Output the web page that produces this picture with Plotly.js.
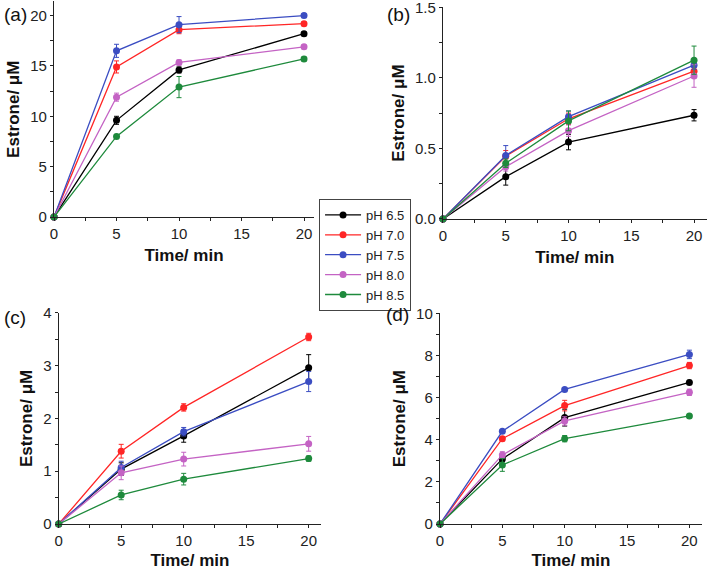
<!DOCTYPE html>
<html>
<head>
<meta charset="utf-8">
<script src="https://cdn.plot.ly/plotly-3.0.1.min.js"></script>
<style>html,body{margin:0;padding:0;background:#fff;}#chart{width:709px;height:570px;}</style>
</head>
<body>
<div id="chart"></div>
<script>
// ---- data ----
const timeMin = [0, 5, 10, 20];
const seriesNames = ["pH 6.5", "pH 7.0", "pH 7.5", "pH 8.0", "pH 8.5"];
const seriesColors = ["#000000", "#ff2626", "#3b4dc2", "#c463c4", "#1e8a3c"];

// panel (a)
const a_ph65 = [0, 9.6, 14.6, 18.2];   const a_ph65_err = [0, 0.4, 0.3, 0.2];
const a_ph70 = [0, 14.9, 18.6, 19.2];  const a_ph70_err = [0, 0.6, 0.4, 0.2];
const a_ph75 = [0, 16.5, 19.1, 20.0];  const a_ph75_err = [0, 0.65, 0.8, 0.2];
const a_ph80 = [0, 11.9, 15.35, 16.9]; const a_ph80_err = [0, 0.4, 0.25, 0.2];
const a_ph85 = [0, 8.0, 12.9, 15.7];   const a_ph85_err = [0, 0.2, 1.05, 0.2];
// panel (b)
const b_ph65 = [0, 0.30, 0.545, 0.735]; const b_ph65_err = [0, 0.06, 0.055, 0.04];
const b_ph70 = [0, 0.445, 0.71, 1.047]; const b_ph70_err = [0, 0.04, 0.04, 0.03];
const b_ph75 = [0, 0.45, 0.725, 1.09];  const b_ph75_err = [0, 0.07, 0.04, 0.03];
const b_ph80 = [0, 0.37, 0.626, 1.013]; const b_ph80_err = [0, 0.03, 0.04, 0.08];
const b_ph85 = [0, 0.395, 0.695, 1.125];const b_ph85_err = [0, 0.03, 0.07, 0.1];
// panel (c)
const c_ph65 = [0, 1.04, 1.67, 2.96];  const c_ph65_err = [0, 0.12, 0.12, 0.25];
const c_ph70 = [0, 1.38, 2.21, 3.545]; const c_ph70_err = [0, 0.13, 0.07, 0.07];
const c_ph75 = [0, 1.07, 1.75, 2.70];  const c_ph75_err = [0, 0.12, 0.08, 0.19];
const c_ph80 = [0, 0.97, 1.23, 1.52];  const c_ph80_err = [0, 0.13, 0.13, 0.14];
const c_ph85 = [0, 0.55, 0.85, 1.24];  const c_ph85_err = [0, 0.09, 0.11, 0.05];
// panel (d)
const d_ph65 = [0, 3.09, 5.05, 6.72];  const d_ph65_err = [0, 0.1, 0.4, 0.1];
const d_ph70 = [0, 4.05, 5.62, 7.52];  const d_ph70_err = [0, 0.1, 0.25, 0.15];
const d_ph75 = [0, 4.40, 6.39, 8.05];  const d_ph75_err = [0, 0.05, 0.08, 0.2];
const d_ph80 = [0, 3.28, 4.89, 6.25];  const d_ph80_err = [0, 0.15, 0.2, 0.15];
const d_ph85 = [0, 2.80, 4.05, 5.13];  const d_ph85_err = [0, 0.3, 0.15, 0.08];

const panelLabels = ["(a)", "(b)", "(c)", "(d)"];
const xTitle = "Time/ min";
const yTitle = "Estrone/ μM";

// ---- build ----
const panels = [
  {ax: ["x", "y"],   vals: [a_ph65, a_ph70, a_ph75, a_ph80, a_ph85], errs: [a_ph65_err, a_ph70_err, a_ph75_err, a_ph80_err, a_ph85_err]},
  {ax: ["x2", "y2"], vals: [b_ph65, b_ph70, b_ph75, b_ph80, b_ph85], errs: [b_ph65_err, b_ph70_err, b_ph75_err, b_ph80_err, b_ph85_err]},
  {ax: ["x3", "y3"], vals: [c_ph65, c_ph70, c_ph75, c_ph80, c_ph85], errs: [c_ph65_err, c_ph70_err, c_ph75_err, c_ph80_err, c_ph85_err]},
  {ax: ["x4", "y4"], vals: [d_ph65, d_ph70, d_ph75, d_ph80, d_ph85], errs: [d_ph65_err, d_ph70_err, d_ph75_err, d_ph80_err, d_ph85_err]}
];

const traces = [];
panels.forEach((p, pi) => {
  p.vals.forEach((v, si) => {
    traces.push({
      x: timeMin, y: v, xaxis: p.ax[0], yaxis: p.ax[1],
      type: "scatter", mode: "lines+markers", cliponaxis: false,
      name: seriesNames[si], legendgroup: seriesNames[si],
      showlegend: pi === 0,
      line: {color: seriesColors[si], width: 1.3},
      marker: {color: seriesColors[si], size: 7},
      error_y: {type: "data", array: p.errs[si], visible: true, color: seriesColors[si], thickness: 1, width: 2.5}
    });
  });
});

const FONT = "Liberation Sans, Arial, sans-serif";
function xAxis(domain, range, anchor) {
  return {domain: domain, range: range, anchor: anchor, dtick: 5, tick0: 0,
    showgrid: false, zeroline: false, showline: true, linecolor: "#222", linewidth: 1.2,
    ticks: "outside", ticklen: 3, tickwidth: 1, tickcolor: "#222", ticklabeloverflow: "allow",
    minor: {dtick: 2.5, ticks: "outside", ticklen: 3, tickcolor: "#222", showgrid: false},
    tickfont: {family: FONT, size: 15, color: "#222"},
    title: {text: xTitle, font: {family: FONT, size: 17, color: "#111", weight: "bold"}, standoff: 8},
    fixedrange: true};
}
function yAxis(domain, range, anchor, dtick, minorD, fmt) {
  return {domain: domain, range: range, anchor: anchor, dtick: dtick, tick0: 0, tickformat: fmt,
    showgrid: false, zeroline: false, showline: true, linecolor: "#222", linewidth: 1.2,
    ticks: "outside", ticklen: 3, tickwidth: 1, tickcolor: "#222", ticklabeloverflow: "allow",
    minor: {dtick: minorD, ticks: "outside", ticklen: 3, tickcolor: "#222", showgrid: false},
    tickfont: {family: FONT, size: 15, color: "#222"},
    title: {text: yTitle, font: {family: FONT, size: 17, color: "#111", weight: "bold"}, standoff: 6},
    fixedrange: true};
}

const layout = {
  width: 709, height: 570,
  margin: {l: 0, r: 0, t: 0, b: 0},
  paper_bgcolor: "#fff", plot_bgcolor: "#fff",
  font: {family: FONT, color: "#222"},
  xaxis:  xAxis([0.0762, 0.4429], [0, 20.8], "y"),
  yaxis:  yAxis([0.6193, 0.9974], [0, 21.4], "x", 5, 2.5, "d"),
  xaxis2: xAxis([0.6248, 0.9966], [0, 21], "y2"),
  yaxis2: yAxis([0.6158, 0.9874], [0, 1.5005], "x2", 0.5, 0.25, ".1f"),
  xaxis3: xAxis([0.0828, 0.4530], [0, 21], "y3"),
  yaxis3: yAxis([0.0807, 0.4511], [0, 4.002], "x3", 1, 0.5, "d"),
  xaxis4: xAxis([0.6206, 0.9899], [0, 21], "y4"),
  yaxis4: yAxis([0.0807, 0.4505], [0, 10.005], "x4", 2, 1, "d"),
  showlegend: true,
  legend: {x: 0.45, y: 0.651, xanchor: "left", yanchor: "top",
    bgcolor: "#fff", bordercolor: "#444", borderwidth: 1,
    font: {family: FONT, size: 13, color: "#222"}, tracegroupgap: 0, itemwidth: 36},
  annotations: [
    {text: panelLabels[0], xref: "paper", yref: "paper", x: 2/709, y: 1 - 15/570, xanchor: "left", yanchor: "middle", showarrow: false, font: {family: FONT, size: 19, color: "#111"}},
    {text: panelLabels[1], xref: "paper", yref: "paper", x: 385/709, y: 1 - 15/570, xanchor: "left", yanchor: "middle", showarrow: false, font: {family: FONT, size: 19, color: "#111"}},
    {text: panelLabels[2], xref: "paper", yref: "paper", x: 2/709, y: 1 - 317/570, xanchor: "left", yanchor: "middle", showarrow: false, font: {family: FONT, size: 19, color: "#111"}},
    {text: panelLabels[3], xref: "paper", yref: "paper", x: 384/709, y: 1 - 314/570, xanchor: "left", yanchor: "middle", showarrow: false, font: {family: FONT, size: 19, color: "#111"}}
  ]
};

Plotly.newPlot("chart", traces, layout, {displayModeBar: false, staticPlot: true});
</script>
</body>
</html>
